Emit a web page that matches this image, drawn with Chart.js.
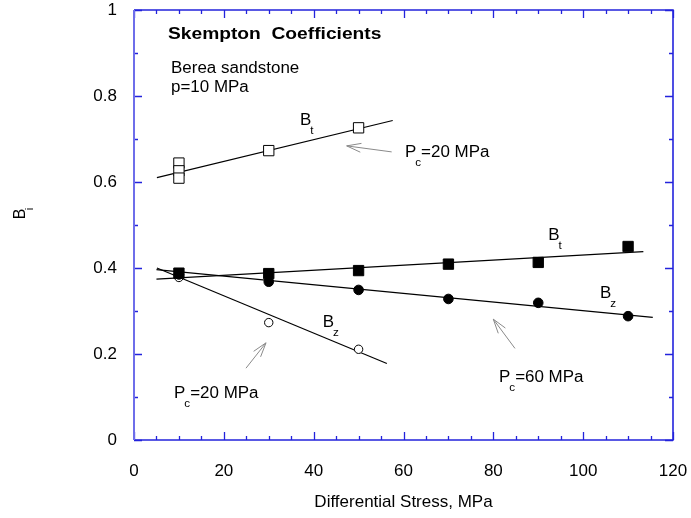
<!DOCTYPE html>
<html>
<head>
<meta charset="utf-8">
<script src="https://cdn.jsdelivr.net/npm/chart.js@4.4.1/dist/chart.umd.min.js"></script>
<style>
  html, body { margin: 0; padding: 0; background: #fff; }
  #wrap { width: 691px; height: 518px; }
</style>
</head>
<body>
<div id="wrap"><canvas id="myChart"></canvas></div>
<script>
// Differential stress (MPa) for the measured points
const stressPc20 = [10, 10, 10, 30, 50];
const stressPc20z = [10, 30, 50];
const stressPc60 = [10, 30, 50, 70, 90, 110];

// Skempton coefficients
const btPc20 = [0.644, 0.626, 0.609, 0.673, 0.726];
const bzPc20 = [0.378, 0.273, 0.211];
const btPc60 = [0.388, 0.387, 0.394, 0.409, 0.413, 0.450];
const bzPc60 = [0.385, 0.368, 0.349, 0.328, 0.319, 0.288];

// Fitted lines, end points [x0, x1] and [y0, y1]
const fitBt20x = [5.1, 57.6], fitBt20y = [0.610, 0.743];
const fitBz20x = [5.1, 56.3], fitBz20y = [0.400, 0.178];
const fitBt60x = [5.0, 113.4], fitBt60y = [0.374, 0.438];
const fitBz60x = [5.0, 115.5], fitBz60y = [0.396, 0.285];

// Axis ticks
const xTickLabels = [0, 20, 40, 60, 80, 100, 120];
const yTickLabels = ['0', '0.2', '0.4', '0.6', '0.8', '1'];

// Notes on the plot (data coordinates, baseline-left)
const notes = [
    { text: 'Skempton  Coefficients', x: 7.57, y: 0.932, bold: true },
    { text: 'Berea sandstone', x: 8.24, y: 0.854 },
    { text: 'p=10 MPa', x: 8.24, y: 0.810 }
];
const subNotes = [
    { main: 'B', sub: 't', rest: '', x: 36.96, y: 0.733 },
    { main: 'P', sub: 'c', rest: '=20 MPa', x: 60.33, y: 0.659 },
    { main: 'B', sub: 't', rest: '', x: 92.24, y: 0.465 },
    { main: 'B', sub: 'z', rest: '', x: 103.75, y: 0.330 },
    { main: 'B', sub: 'z', rest: '', x: 42.01, y: 0.263 },
    { main: 'P', sub: 'c', rest: '=60 MPa', x: 81.26, y: 0.1356 },
    { main: 'P', sub: 'c', rest: '=20 MPa', x: 8.91, y: 0.097 }
];
// Arrows: tail -> tip
const arrowTailX = [57.37, 84.82, 24.93];
const arrowTailY = [0.670, 0.213, 0.167];
const arrowTipX = [47.35, 79.99, 29.39];
const arrowTipY = [0.684, 0.281, 0.226];

const frameBlue = '#2323dc';
const FONT = '"Liberation Sans", Arial, sans-serif';

function pts(xs, ys) {
    return xs.map((x, i) => ({ x: x, y: ys[i] }));
}

function drawText(ctx, txt, x, y, size, bold, stretch) {
    ctx.save();
    ctx.font = (bold ? 'bold ' : '') + size + 'px ' + FONT;
    ctx.translate(x, y);
    ctx.scale(stretch, 1);
    ctx.fillText(txt, 0, 0);
    const w = ctx.measureText(txt).width * stretch;
    ctx.restore();
    return w;
}

// no label overhang: chart area is fixed by the layout padding
function noOverhang(s) {
    s.paddingTop = 0; s.paddingBottom = 0;
    s.paddingLeft = 0; s.paddingRight = 0;
}

// Frame, inward ticks, annotations and arrows
const decorPlugin = {
    id: 'decor',
    afterDraw(chart) {
        const ctx = chart.ctx;
        const a = chart.chartArea;
        const xs = chart.scales.x, ys = chart.scales.y;

        ctx.save();
        ctx.strokeStyle = frameBlue;
        ctx.lineWidth = 1.3;
        xs.ticks.forEach(t => {
            const px = Math.round(xs.getPixelForValue(t.value)) + 0.5;
            const len = t.value % 20 === 0 ? 8 : 4;
            ctx.beginPath();
            ctx.moveTo(px, a.bottom); ctx.lineTo(px, a.bottom - len);
            ctx.moveTo(px, a.top); ctx.lineTo(px, a.top + len);
            ctx.stroke();
        });
        ys.ticks.forEach(t => {
            const py = Math.round(ys.getPixelForValue(t.value)) + 0.5;
            const len = Math.round(t.value * 10) % 2 === 0 ? 8 : 4;
            ctx.beginPath();
            ctx.moveTo(a.left, py); ctx.lineTo(a.left + len, py);
            ctx.moveTo(a.right, py); ctx.lineTo(a.right - len, py);
            ctx.stroke();
        });
        ctx.lineWidth = 1.6;
        ctx.beginPath();
        ctx.moveTo(a.left, a.top); ctx.lineTo(a.right, a.top);
        ctx.lineTo(a.right, a.bottom); ctx.lineTo(a.left, a.bottom);
        ctx.stroke();
        ctx.strokeStyle = '#6e6eea';
        ctx.lineWidth = 2;
        ctx.beginPath();
        ctx.moveTo(a.left, a.top); ctx.lineTo(a.left, a.bottom);
        ctx.stroke();

        // arrows
        ctx.strokeStyle = '#8a8a8a';
        ctx.lineWidth = 1;
        arrowTipX.forEach((tx, i) => {
            const x1 = xs.getPixelForValue(arrowTailX[i]), y1 = ys.getPixelForValue(arrowTailY[i]);
            const x2 = xs.getPixelForValue(tx), y2 = ys.getPixelForValue(arrowTipY[i]);
            const ang = Math.atan2(y2 - y1, x2 - x1);
            const hl = 15, spread = 0.3;
            ctx.beginPath();
            ctx.moveTo(x1, y1); ctx.lineTo(x2, y2);
            ctx.moveTo(x2 - hl * Math.cos(ang - spread), y2 - hl * Math.sin(ang - spread));
            ctx.lineTo(x2, y2);
            ctx.lineTo(x2 - hl * Math.cos(ang + spread), y2 - hl * Math.sin(ang + spread));
            ctx.stroke();
        });

        // text notes
        ctx.fillStyle = '#000';
        ctx.textBaseline = 'alphabetic';
        ctx.textAlign = 'left';
        notes.forEach(n => {
            drawText(ctx, n.text, xs.getPixelForValue(n.x), ys.getPixelForValue(n.y),
                16, n.bold, n.bold ? 1.2 : 1.06);
        });
        subNotes.forEach(n => {
            let px = xs.getPixelForValue(n.x);
            const py = ys.getPixelForValue(n.y);
            px += drawText(ctx, n.main, px, py, 16, false, 1.06);
            px += drawText(ctx, n.sub, px - 1, py + 9, 11, false, 1.06) - 1;
            if (n.rest) drawText(ctx, n.rest, px, py, 16, false, 1.06);
        });

        // y axis title B_i, rotated
        ctx.save();
        ctx.translate(25, 214);
        ctx.rotate(-Math.PI / 2);
        ctx.textAlign = 'center';
        ctx.font = '16px ' + FONT;
        ctx.fillText('B', 0, 0);
        ctx.font = '11px ' + FONT;
        ctx.fillText('i', 5, 8);
        ctx.restore();
        ctx.restore();
    }
};

const ctx = document.getElementById('myChart').getContext('2d');
const myChart = new Chart(ctx, {
    type: 'scatter',
    data: {
        datasets: [
            { data: pts(stressPc20, btPc20), pointStyle: 'rect', pointRadius: 7.3, backgroundColor: '#fff', borderColor: '#000', borderWidth: 1, order: 1 },
            { data: pts(stressPc60, btPc60), pointStyle: 'rect', pointRadius: 7.3, backgroundColor: '#000', borderColor: '#000', borderWidth: 1, order: 1 },
            { data: pts(stressPc60, bzPc60), pointStyle: 'circle', pointRadius: 4.8, backgroundColor: '#000', borderColor: '#000', borderWidth: 1, order: 1 },
            { data: pts(stressPc20z, bzPc20), pointStyle: 'circle', pointRadius: 4.2, backgroundColor: '#fff', borderColor: '#000', borderWidth: 1, order: 1 },
            { type: 'line', data: pts(fitBt20x, fitBt20y), borderColor: '#000', borderWidth: 1.2, pointRadius: 0, order: 2 },
            { type: 'line', data: pts(fitBz20x, fitBz20y), borderColor: '#000', borderWidth: 1.2, pointRadius: 0, order: 2 },
            { type: 'line', data: pts(fitBt60x, fitBt60y), borderColor: '#000', borderWidth: 1.2, pointRadius: 0, order: 2 },
            { type: 'line', data: pts(fitBz60x, fitBz60y), borderColor: '#000', borderWidth: 1.2, pointRadius: 0, order: 2 }
        ]
    },
    options: {
        responsive: true,
        maintainAspectRatio: false,
        animation: false,
        layout: { padding: { left: 0, right: 18, top: 10, bottom: 0 } },
        plugins: { legend: { display: false }, tooltip: { enabled: false } },
        scales: {
            x: {
                type: 'linear',
                min: 0, max: 120,
                grid: { display: false, drawTicks: false },
                border: { display: false },
                ticks: {
                    stepSize: 5, autoSkip: false, maxRotation: 0, padding: 21,
                    color: '#000', font: { family: FONT, size: 17 },
                    callback: v => xTickLabels.includes(v) ? String(v) : ''
                },
                title: {
                    display: true, text: 'Differential Stress, MPa', color: '#000',
                    font: { family: FONT, size: 17 }, padding: { top: 0, bottom: 5 }
                },
                afterFit: s => { s.height = 78; noOverhang(s); }
            },
            y: {
                min: 0, max: 1,
                grid: { display: false, drawTicks: false },
                border: { display: false },
                ticks: {
                    stepSize: 0.1, autoSkip: false, padding: 17,
                    color: '#000', font: { family: FONT, size: 17 },
                    callback: v => {
                        const k = Math.round(v * 10);
                        return k % 2 === 0 ? yTickLabels[k / 2] : '';
                    }
                },
                afterFit: s => { s.width = 134; noOverhang(s); }
            }
        }
    },
    plugins: [decorPlugin]
});
</script>
</body>
</html>
